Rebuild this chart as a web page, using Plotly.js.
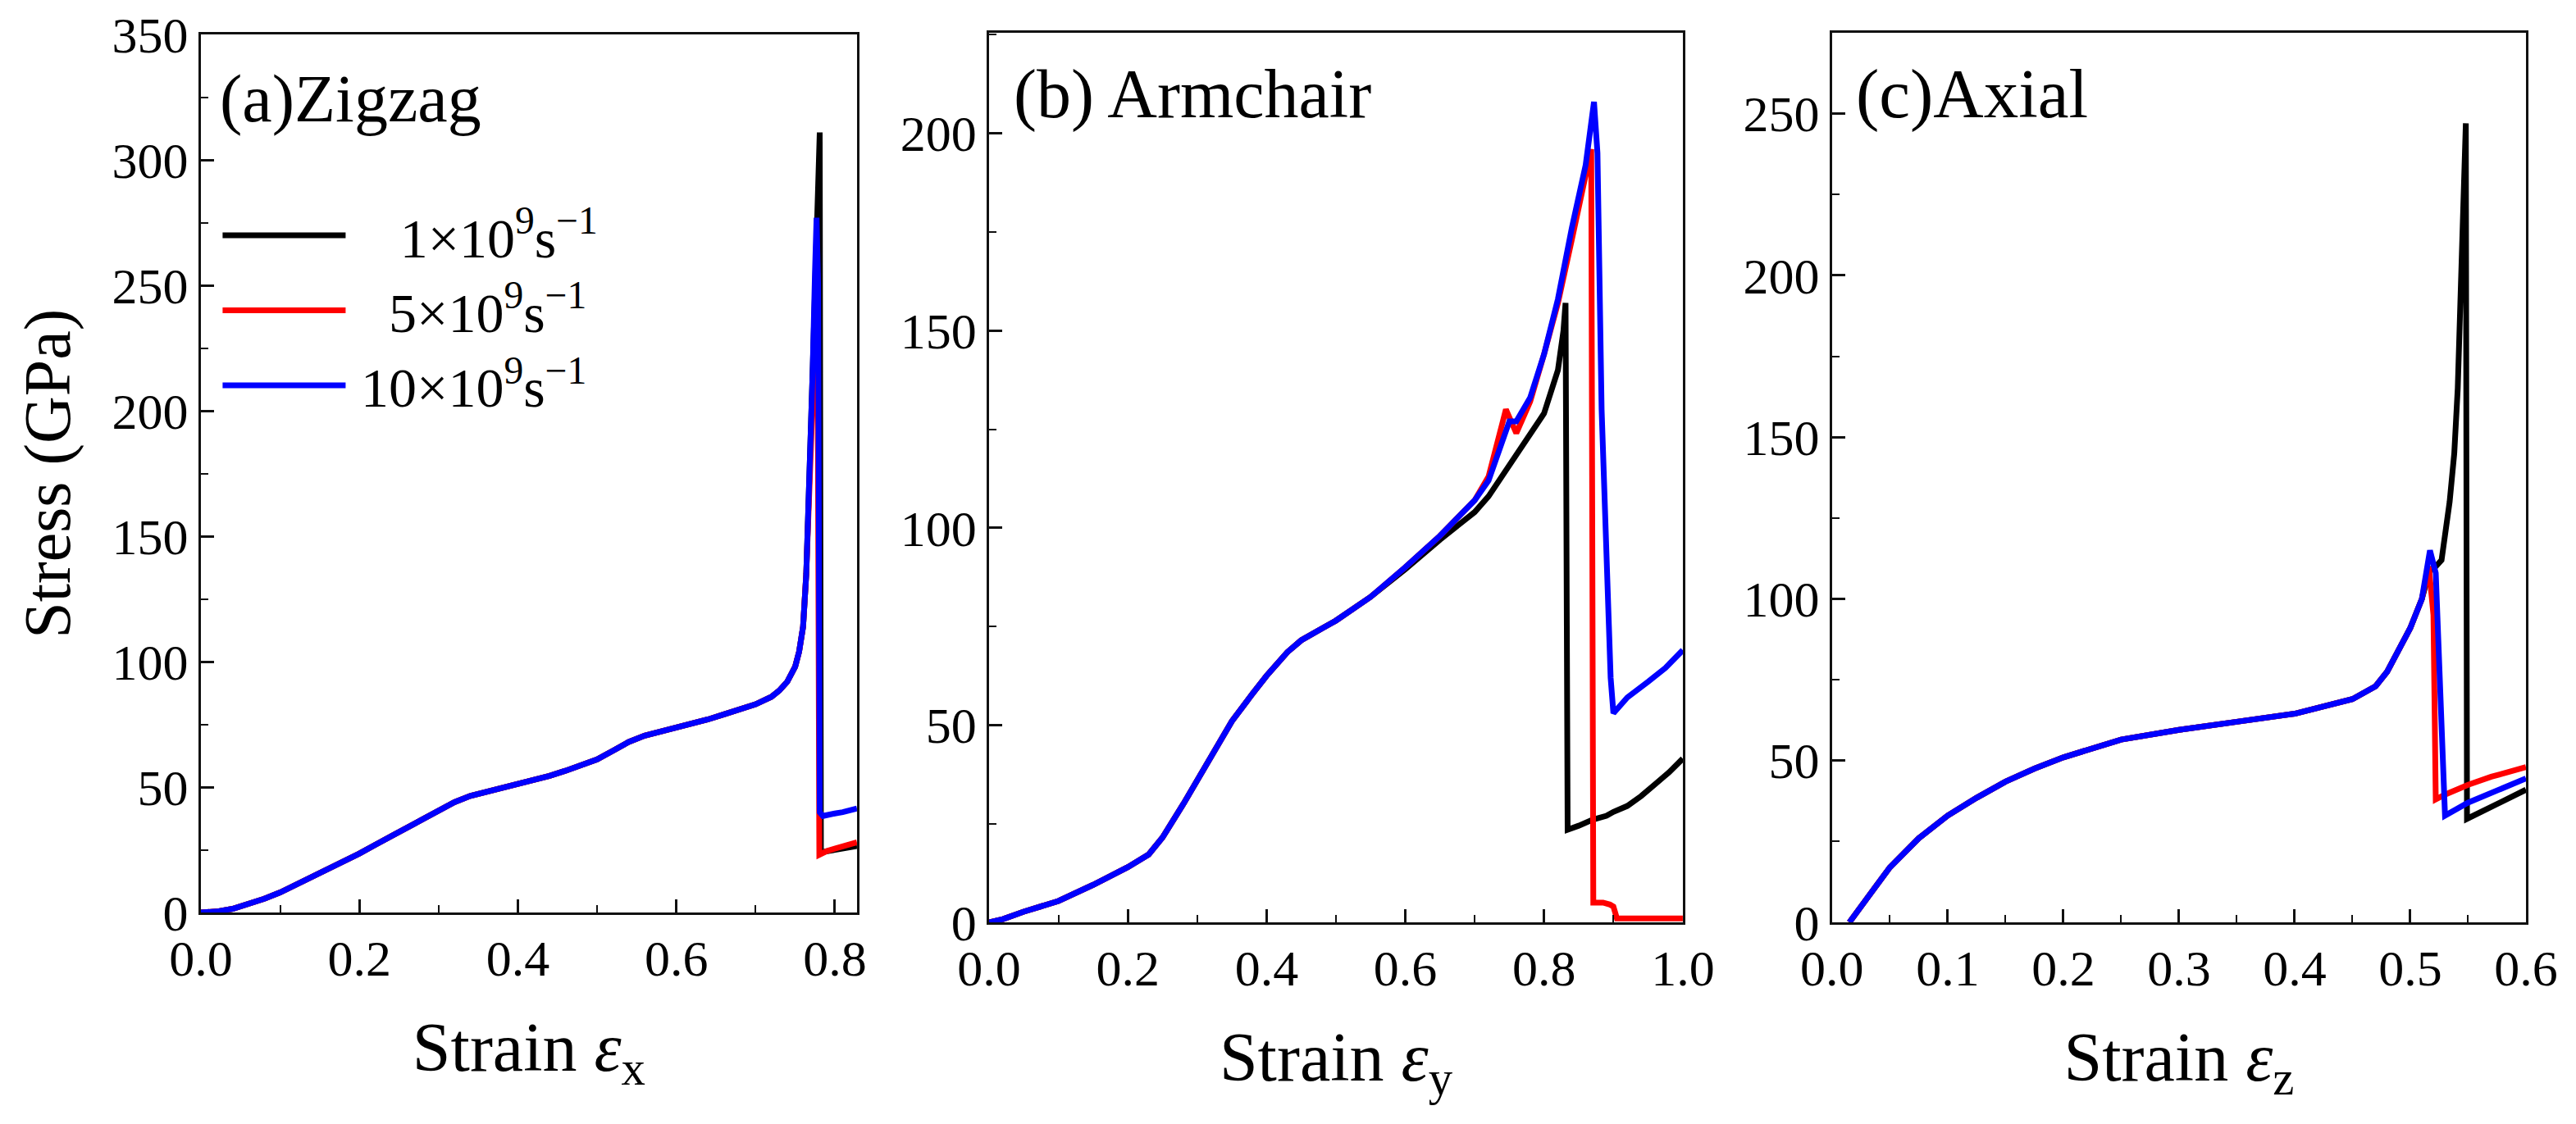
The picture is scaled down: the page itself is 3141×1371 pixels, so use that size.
<!DOCTYPE html>
<html>
<head>
<meta charset="utf-8">
<script src="https://cdn.plot.ly/plotly-3.0.1.min.js"></script>
<style>
  html, body { margin: 0; padding: 0; background: #fff; }
  #stress { width: 3141px; height: 1371px; }
</style>
</head>
<body>
<div id="stress"></div>
<script>
/***** stress-strain, three loading directions, three strain rates *****/
var font = 'Liberation Serif, Times New Roman, serif';

var rateNames = [
  '\u2009\u2007\u20091\u00d710<sup>9</sup>s<sup>\u22121</sup>',
  '\u2009\u20075\u00d710<sup>9</sup>s<sup>\u22121</sup>',
  '\u200910\u00d710<sup>9</sup>s<sup>\u22121</sup>'
];
var rateColors = ['#000000', '#ff0000', '#0000ff'];

// (a) zigzag
var zigStrain1 = [0, 0.02, 0.04, 0.06, 0.08, 0.10, 0.12, 0.14, 0.16, 0.18, 0.20, 0.22, 0.24, 0.26, 0.28, 0.30, 0.32, 0.34, 0.36, 0.38, 0.40, 0.42, 0.44, 0.46, 0.48, 0.50, 0.52, 0.54, 0.56, 0.58, 0.60, 0.62, 0.64, 0.66, 0.68, 0.70, 0.72, 0.73, 0.74, 0.75, 0.755, 0.76, 0.764, 0.768, 0.772, 0.776, 0.779, 0.781, 0.7825, 0.79, 0.80, 0.81, 0.82, 0.828];
var zigStress1 = [0, 0.4, 1.5, 3.3, 5.5, 8, 11, 14, 17.5, 20.5, 23.5, 27, 30.5, 34, 37.5, 41, 44, 46.5, 48, 50, 51.5, 53, 54.5, 56.5, 58.5, 61, 64.5, 68, 70.5, 72, 73.5, 75, 77, 79, 81, 83, 86, 88.5, 92, 98, 104, 114, 135, 170, 215, 258, 292, 311, 24, 24.5, 25, 25.5, 26, 26.5];
var zigStrain5 = [0, 0.02, 0.04, 0.06, 0.08, 0.10, 0.12, 0.14, 0.16, 0.18, 0.20, 0.22, 0.24, 0.26, 0.28, 0.30, 0.32, 0.34, 0.36, 0.38, 0.40, 0.42, 0.44, 0.46, 0.48, 0.50, 0.52, 0.54, 0.56, 0.58, 0.60, 0.62, 0.64, 0.66, 0.68, 0.70, 0.72, 0.73, 0.74, 0.75, 0.755, 0.76, 0.764, 0.768, 0.772, 0.776, 0.778, 0.7805, 0.785, 0.79, 0.80, 0.81, 0.82, 0.828];
var zigStress5 = [0, 0.4, 1.5, 3.3, 5.5, 8, 11, 14, 17.5, 20.5, 23.5, 27, 30.5, 34, 37.5, 41, 44, 46.5, 48, 50, 51.5, 53, 54.5, 56.5, 58.5, 61, 64.5, 68, 70.5, 72, 73.5, 75, 77, 79, 81, 83, 86, 88.5, 92, 98, 104, 114, 135, 170, 212, 245, 255, 23, 24, 24.5, 25.5, 26.5, 27.5, 28];
var zigStrain10 = [0, 0.02, 0.04, 0.06, 0.08, 0.10, 0.12, 0.14, 0.16, 0.18, 0.20, 0.22, 0.24, 0.26, 0.28, 0.30, 0.32, 0.34, 0.36, 0.38, 0.40, 0.42, 0.44, 0.46, 0.48, 0.50, 0.52, 0.54, 0.56, 0.58, 0.60, 0.62, 0.64, 0.66, 0.68, 0.70, 0.72, 0.73, 0.74, 0.75, 0.755, 0.76, 0.764, 0.768, 0.772, 0.775, 0.777, 0.779, 0.781, 0.785, 0.79, 0.80, 0.81, 0.82, 0.828];
var zigStress10 = [0, 0.4, 1.5, 3.3, 5.5, 8, 11, 14, 17.5, 20.5, 23.5, 27, 30.5, 34, 37.5, 41, 44, 46.5, 48, 50, 51.5, 53, 54.5, 56.5, 58.5, 61, 64.5, 68, 70.5, 72, 73.5, 75, 77, 79, 81, 83, 86, 88.5, 92, 98, 104, 114, 135, 170, 215, 255, 277, 250, 40, 38.5, 39, 39.5, 40, 41, 41.5];

// (b) armchair
var armStrain1 = [0, 0.02, 0.05, 0.10, 0.15, 0.20, 0.23, 0.25, 0.28, 0.30, 0.33, 0.35, 0.38, 0.40, 0.43, 0.45, 0.48, 0.50, 0.55, 0.60, 0.65, 0.70, 0.72, 0.75, 0.78, 0.80, 0.82, 0.828, 0.831, 0.834, 0.85, 0.87, 0.89, 0.90, 0.92, 0.94, 0.96, 0.98, 1.0];
var armStress1 = [0, 0.8, 2.7, 5.4, 9.5, 14, 17.2, 21.5, 30, 36, 45, 51, 58, 62.5, 68.5, 71.5, 74.5, 76.5, 82.5, 89.5, 97, 104, 108, 116, 124, 129, 140, 150, 157, 23.5, 24.5, 26, 27, 28, 29.5, 32, 35, 38, 41.5];
var armStrain5 = [0, 0.02, 0.05, 0.10, 0.15, 0.20, 0.23, 0.25, 0.28, 0.30, 0.33, 0.35, 0.38, 0.40, 0.43, 0.45, 0.48, 0.50, 0.55, 0.60, 0.65, 0.70, 0.72, 0.745, 0.76, 0.78, 0.80, 0.82, 0.84, 0.86, 0.868, 0.871, 0.875, 0.885, 0.895, 0.90, 0.905, 0.92, 0.95, 1.0];
var armStress5 = [0, 0.8, 2.7, 5.4, 9.5, 14, 17.2, 21.5, 30, 36, 45, 51, 58, 62.5, 68.5, 71.5, 74.5, 76.5, 82.5, 90, 98, 107, 113, 130, 124, 132, 144, 157, 173, 190, 196, 5, 5, 5, 4.5, 4, 1, 1, 1, 1];
var armStrain10 = [0, 0.02, 0.05, 0.10, 0.15, 0.20, 0.23, 0.25, 0.28, 0.30, 0.33, 0.35, 0.38, 0.40, 0.43, 0.45, 0.48, 0.50, 0.55, 0.60, 0.65, 0.70, 0.72, 0.74, 0.75, 0.76, 0.78, 0.80, 0.82, 0.84, 0.86, 0.872, 0.877, 0.883, 0.89, 0.896, 0.90, 0.92, 0.95, 0.975, 1.0];
var armStress10 = [0, 0.8, 2.7, 5.4, 9.5, 14, 17.2, 21.5, 30, 36, 45, 51, 58, 62.5, 68.5, 71.5, 74.5, 76.5, 82.5, 90, 98, 107, 112, 122, 127, 127, 133, 144, 158, 176, 192, 208, 195, 130, 95, 62, 53, 57, 61, 64.5, 69];

// (c) axial
var axStrain1 = [0.015, 0.03, 0.05, 0.075, 0.10, 0.125, 0.15, 0.175, 0.20, 0.25, 0.30, 0.35, 0.40, 0.45, 0.47, 0.48, 0.49, 0.50, 0.51, 0.517, 0.522, 0.527, 0.534, 0.538, 0.541, 0.544, 0.546, 0.548, 0.549, 0.56, 0.58, 0.60];
var axStress1 = [0, 7, 17, 26, 33, 38.5, 43.5, 47.5, 51, 56.5, 59.5, 62, 64.5, 69, 73, 77.5, 84, 91, 100, 109, 110, 112, 130, 145, 165, 195, 220, 247, 32, 34, 37.5, 41];
var axStrain5 = [0.015, 0.03, 0.05, 0.075, 0.10, 0.125, 0.15, 0.175, 0.20, 0.25, 0.30, 0.35, 0.40, 0.45, 0.47, 0.48, 0.49, 0.50, 0.51, 0.516, 0.52, 0.522, 0.53, 0.55, 0.57, 0.60];
var axStress5 = [0, 7, 17, 26, 33, 38.5, 43.5, 47.5, 51, 56.5, 59.5, 62, 64.5, 69, 73, 77.5, 84, 91, 100, 110, 95, 38, 39.5, 42.5, 45, 48];
var axStrain10 = [0.015, 0.03, 0.05, 0.075, 0.10, 0.125, 0.15, 0.175, 0.20, 0.25, 0.30, 0.35, 0.40, 0.45, 0.47, 0.48, 0.49, 0.50, 0.51, 0.517, 0.522, 0.526, 0.53, 0.55, 0.60];
var axStress10 = [0, 7, 17, 26, 33, 38.5, 43.5, 47.5, 51, 56.5, 59.5, 62, 64.5, 69, 73, 77.5, 84, 91, 100, 115, 108, 70, 33, 37, 44.5];

var panels = [
  {xa: 'x', ya: 'y', xs: [zigStrain1, zigStrain5, zigStrain10], ys: [zigStress1, zigStress5, zigStress10]},
  {xa: 'x2', ya: 'y2', xs: [armStrain1, armStrain5, armStrain10], ys: [armStress1, armStress5, armStress10]},
  {xa: 'x3', ya: 'y3', xs: [axStrain1, axStrain5, axStrain10], ys: [axStress1, axStress5, axStress10]}
];

var data = [];
panels.forEach(function(p, i) {
  for (var k = 0; k < 3; k++) {
    data.push({
      x: p.xs[k],
      y: p.ys[k],
      xaxis: p.xa,
      yaxis: p.ya,
      type: 'scatter',
      mode: 'lines',
      name: rateNames[k],
      showlegend: i === 0,
      line: {color: rateColors[k], width: 7}
    });
  }
});

function xAxis(anchor, dom, range, dtick, sub) {
  return {
    domain: dom,
    anchor: anchor,
    range: range,
    autorange: false,
    dtick: dtick,
    tick0: 0,
    tickformat: '.1f',
    ticks: 'inside',
    ticklen: 16,
    tickwidth: 3,
    tickcolor: '#111',
    minor: {ticks: 'inside', ticklen: 9, tickwidth: 2, tickcolor: '#111', dtick: dtick / 2},
    showline: true,
    linewidth: 3,
    linecolor: '#111',
    mirror: true,
    showgrid: false,
    zeroline: false,
    tickfont: {family: font, size: 62, color: '#000'},
    title: {text: 'Strain <i>\u03b5</i><sub>' + sub + '</sub>', font: {family: font, size: 84, color: '#000'}, standoff: 45}
  };
}

function yAxis(anchor, dom, range, title) {
  return {
    domain: dom,
    anchor: anchor,
    range: range,
    autorange: false,
    dtick: 50,
    tick0: 0,
    ticks: 'inside',
    ticklen: 16,
    tickwidth: 3,
    tickcolor: '#111',
    minor: {ticks: 'inside', ticklen: 9, tickwidth: 2, tickcolor: '#111', dtick: 25},
    showline: true,
    linewidth: 3,
    linecolor: '#111',
    mirror: true,
    showgrid: false,
    zeroline: false,
    tickfont: {family: font, size: 62, color: '#000'},
    title: {text: title, font: {family: font, size: 80, color: '#000'}, standoff: 25}
  };
}

var layout = {
  width: 3141,
  height: 1371,
  margin: {l: 140, r: 61, t: 40, b: 246},
  paper_bgcolor: '#fff',
  plot_bgcolor: '#fff',
  showlegend: true,
  legend: {
    x: 0.043, y: 0.819, xanchor: 'left', yanchor: 'top',
    bgcolor: 'rgba(0,0,0,0)',
    itemwidth: 150,
    tracegroupgap: 0,
    font: {family: font, size: 68, color: '#000'}
  },
  xaxis: xAxis('y', [0.0357, 0.3078], [0, 0.828], 0.2, 'x'),
  yaxis: yAxis('x', [0.011, 0.998], [0, 350], 'Stress (GPa)'),
  xaxis2: xAxis('y2', [0.3626, 0.6503], [0, 1.0], 0.2, 'y'),
  yaxis2: yAxis('x2', [0, 1], [0, 225.5], ''),
  xaxis3: xAxis('y3', [0.7122, 1.0], [0, 0.6], 0.1, 'z'),
  yaxis3: yAxis('x3', [0, 1], [0, 275], ''),
  annotations: [
    {xref: 'x domain', yref: 'y domain', x: 0.026, y: 0.927, xanchor: 'left', yanchor: 'middle',
     text: '(a)Zigzag', showarrow: false, font: {family: font, size: 82, color: '#000'}},
    {xref: 'x2 domain', yref: 'y2 domain', x: 0.033, y: 0.931, xanchor: 'left', yanchor: 'middle',
     text: '(b) Armchair', showarrow: false, font: {family: font, size: 84, color: '#000'}},
    {xref: 'x3 domain', yref: 'y3 domain', x: 0.032, y: 0.931, xanchor: 'left', yanchor: 'middle',
     text: '(c)Axial', showarrow: false, font: {family: font, size: 85, color: '#000'}}
  ]
};

var config = {staticPlot: true, displayModeBar: false};

Plotly.newPlot('stress', data, layout, config);
</script>
</body>
</html>
